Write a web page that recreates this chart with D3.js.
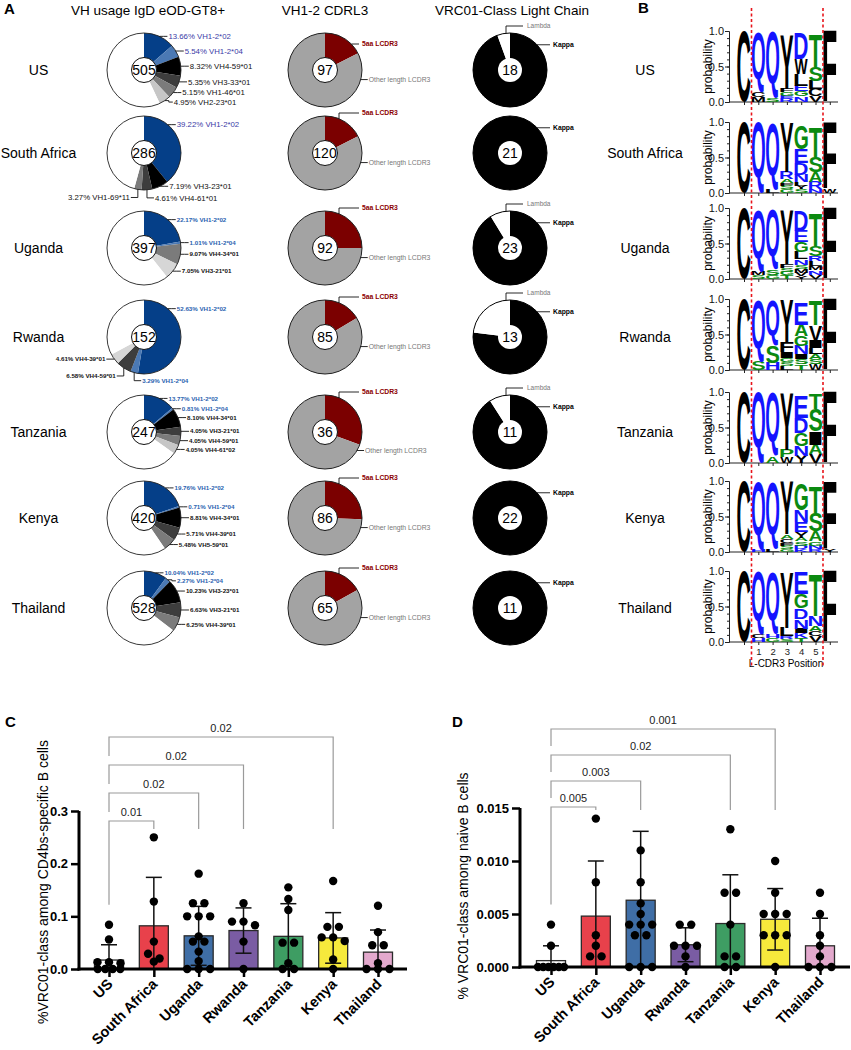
<!DOCTYPE html>
<html><head><meta charset="utf-8">
<script src="https://cdn.jsdelivr.net/npm/d3@7"></script>
<style>
body{margin:0;background:#fff}
svg{display:block}
text{font-family:"Liberation Sans",Arial,sans-serif}
.logo{opacity:0.999}
</style>
</head><body>
<svg id="fig" width="851" height="1050"></svg>
<script>
// ================= DATA =================
const countries = ["US","South Africa","Uganda","Rwanda","Tanzania","Kenya","Thailand"];

// Panel A, column 1: VH usage among IgD+ eOD-GT8+ B cells
const vhTotals = [505, 286, 397, 152, 247, 420, 528];
const vhGenes = [
  ["VH1-2*02","VH1-2*04","VH4-59*01","VH3-33*01","VH1-46*01","VH2-23*01"],
  ["VH1-2*02","VH3-23*01","VH4-61*01","VH1-69*11"],
  ["VH1-2*02","VH1-2*04","VH4-34*01","VH3-21*01"],
  ["VH1-2*02","VH1-2*04","VH4-59*01","VH4-39*01"],
  ["VH1-2*02","VH1-2*04","VH4-34*01","VH3-21*01","VH4-59*01","VH4-61*02"],
  ["VH1-2*02","VH1-2*04","VH4-34*01","VH4-39*01","VH5-59*01"],
  ["VH1-2*02","VH1-2*04","VH3-23*01","VH3-21*01","VH4-39*01"]
];
const vhPercents = [
  [13.66, 5.54, 8.32, 5.35, 5.15, 4.95],
  [39.22, 7.19, 4.61, 3.27],
  [22.17, 1.01, 9.07, 7.05],
  [52.63, 3.29, 6.58, 4.61],
  [13.77, 0.81, 8.10, 4.05, 4.05, 4.05],
  [19.76, 0.71, 8.81, 5.71, 5.48],
  [10.04, 2.27, 10.23, 6.63, 6.25]
];

// Panel A, column 2: VH1-2 CDRL3 (counts of 5aa LCDR3 among total)
const cdrl3Totals = [97, 120, 92, 85, 36, 86, 65];
const cdrl3FiveAA = [17, 21, 23, 14, 11, 22, 11];

// Panel A, column 3: VRC01-class light chain
const lcTotals = [18, 21, 23, 13, 11, 22, 11];
const lcLambda = [1, 0, 2, 3, 1, 0, 0];

// Panel B: L-CDR3 sequence logos (each column listed top -> bottom: [residue, probability])
const logoUS = [
  [["C",1]],
  [["Q",0.84],["C",0.07],["M",0.07]],
  [["Q",0.93],["S",0.06]],
  [["Y",0.76],["F",0.05],["G",0.05],["E",0.04],["R",0.05]],
  [["D",0.36],["W",0.22],["L",0.16],["E",0.08],["G",0.07],["N",0.08]],
  [["T",0.46],["S",0.2],["L",0.12],["C",0.1],["V",0.08]],
  [["F",1]]
];
const logoSouthAfrica = [
  [["C",1]],
  [["Q",1]],
  [["Q",0.93],["L",0.05]],
  [["Y",0.68],["R",0.1],["A",0.06],["F",0.04],["S",0.05],["G",0.05]],
  [["G",0.33],["E",0.2],["D",0.16],["N",0.1],["L",0.06],["Y",0.05],["S",0.05]],
  [["T",0.42],["S",0.22],["A",0.14],["R",0.1],["N",0.05]],
  [["F",0.93],["W",0.06]]
];
const logoUganda = [
  [["C",1]],
  [["Q",0.88],["M",0.05],["S",0.05]],
  [["Q",0.84],["S",0.08],["G",0.06]],
  [["Y",0.76],["F",0.06],["S",0.05],["G",0.05],["T",0.05]],
  [["D",0.28],["E",0.16],["G",0.14],["L",0.1],["N",0.08],["S",0.06],["M",0.05],["V",0.05],["Y",0.04]],
  [["T",0.45],["S",0.14],["R",0.07],["L",0.07],["M",0.06],["N",0.06],["V",0.06]],
  [["F",1]]
];
const logoRwanda = [
  [["C",1]],
  [["Q",0.86],["S",0.12]],
  [["Q",0.64],["S",0.24],["H",0.1]],
  [["Y",0.6],["F",0.14],["I",0.08],["G",0.06],["S",0.06],["L",0.05]],
  [["E",0.3],["A",0.16],["G",0.14],["N",0.12],["I",0.07],["S",0.07],["T",0.08]],
  [["T",0.34],["V",0.22],["I",0.1],["L",0.08],["A",0.08],["S",0.07],["W",0.08]],
  [["F",1]]
];
const logoTanzania = [
  [["C",1]],
  [["Q",1]],
  [["Q",0.9],["A",0.09]],
  [["Y",0.8],["P",0.1],["W",0.08]],
  [["E",0.3],["D",0.22],["G",0.18],["N",0.14],["Y",0.1]],
  [["T",0.22],["S",0.32],["I",0.18],["A",0.14],["V",0.12]],
  [["F",1]]
];
const logoKenya = [
  [["C",1]],
  [["Q",0.96],["H",0.03]],
  [["Q",0.95],["L",0.04]],
  [["Y",0.74],["A",0.06],["C",0.06],["F",0.04],["S",0.05],["G",0.04]],
  [["G",0.36],["N",0.16],["E",0.14],["Y",0.08],["A",0.05],["S",0.06],["D",0.05],["K",0.04]],
  [["T",0.36],["S",0.26],["A",0.14],["G",0.06],["N",0.05],["R",0.04]],
  [["F",0.95],["Y",0.04]]
];
const logoThailand = [
  [["C",1]],
  [["Q",0.9],["C",0.05],["H",0.05]],
  [["Q",0.88],["H",0.06],["G",0.05]],
  [["Y",0.78],["L",0.12],["R",0.04],["S",0.04]],
  [["E",0.3],["G",0.2],["D",0.15],["N",0.13],["I",0.07],["K",0.07],["T",0.05]],
  [["T",0.58],["N",0.14],["A",0.07],["C",0.08],["V",0.08]],
  [["F",1]]
];
const logoPositionLabels = ["", "1", "2", "3", "4", "5", ""];

// Panel C: %VRC01-class among CD4bs-specific B cells
const cd4Means = [0.017, 0.082, 0.063, 0.073, 0.062, 0.059, 0.032];
const cd4SD    = [0.029, 0.092, 0.056, 0.043, 0.062, 0.048, 0.042];
const cd4Points = [
  [0.084, 0.056, 0.013, 0.011, 0.013, 0, 0, 0, 0],
  [0.25, 0.128, 0.052, 0.029, 0.02, 0.014],
  [0.181, 0.125, 0.125, 0.1, 0.1, 0.1, 0.062, 0.052, 0.052, 0.033, 0.015, 0, 0, 0],
  [0.125, 0.09, 0.083, 0.09, 0.052, 0],
  [0.155, 0.133, 0.112, 0.05, 0.05, 0.011, 0, 0],
  [0.167, 0.08, 0.08, 0.06, 0.053, 0.06, 0.018, 0],
  [0.12, 0.07, 0.045, 0.045, 0.011, 0, 0, 0]
];
const cd4Compare = ["South Africa", "Uganda", "Rwanda", "Kenya"];
const cd4PValues = ["0.01", "0.02", "0.02", "0.02"];

// Panel D: % VRC01-class among naive B cells
const naiveMeans = [0.0006, 0.0048, 0.0063, 0.0021, 0.0041, 0.0045, 0.0020];
const naiveSD    = [0.0014, 0.0052, 0.0065, 0.0016, 0.0046, 0.0029, 0.0026];
const naivePoints = [
  [0.004, 0.002, 0, 0, 0, 0, 0, 0],
  [0.014, 0.008, 0.003, 0.002, 0.001, 0.001],
  [0.011, 0.008, 0.006, 0.005, 0.004, 0.004, 0.004, 0.003, 0.003, 0, 0, 0],
  [0.004, 0.004, 0.002, 0.002, 0.002, 0.001, 0],
  [0.013, 0.007, 0.007, 0.004, 0.001, 0.001, 0, 0],
  [0.01, 0.007, 0.005, 0.005, 0.005, 0.003, 0.003, 0.003, 0],
  [0.007, 0.005, 0.003, 0.002, 0.001, 0, 0, 0]
];
const naiveCompare = ["South Africa", "Uganda", "Tanzania", "Kenya"];
const naivePValues = ["0.005", "0.003", "0.02", "0.001"];

// ================= STYLE / LAYOUT =================
const rowY = [70, 153, 248, 337, 432, 518, 608];
const logoTop = [31, 122, 208, 299, 392, 481, 571];
const cdrl3LabelDy = [-26, -40, -40, -40, -40, -40, -40];
const vhShades = [
  ["#000","#3d3d3d","#7b7b7b","#c6c6c6"],
  ["#000","#3d3d3d","#7b7b7b"],
  ["#7b7b7b","#d6d6d6"],
  ["#3d3d3d","#d6d6d6"],
  ["#000","#3d3d3d","#7b7b7b","#c6c6c6"],
  ["#000","#3d3d3d","#7b7b7b"],
  ["#000","#3d3d3d","#7b7b7b"]
];
const vhLabelSide = [
  ["r","r","r","r","r","r"],
  ["r","r","br","bl"],
  ["r","r","r","r"],
  ["r","br","bl","l"],
  ["r","r","r","r","r","r"],
  ["r","r","r","r","r"],
  ["r","r","r","r","r"]
];
const barColors = ["#ffffff","#e8414b","#3f6ea6","#7a5ca3","#3e9d63","#f6e93c","#e3a9cd"];
const SANS = '"Liberation Sans", Arial, sans-serif';
const SERIF = '"Liberation Serif", "Times New Roman", serif';

const svg = d3.select("#fig");
const deg = Math.PI / 180;

// ---------- Titles ----------
svg.append("text").attr("x", 4).attr("y", 14).attr("font-size", 15).attr("font-weight", "bold").text("A");
svg.append("text").attr("x", 148).attr("y", 15).attr("font-size", 13.5).attr("text-anchor", "middle").text("VH usage IgD eOD-GT8+");
svg.append("text").attr("x", 325).attr("y", 15).attr("font-size", 13.5).attr("text-anchor", "middle").text("VH1-2 CDRL3");
svg.append("text").attr("x", 512).attr("y", 15).attr("font-size", 13.5).attr("text-anchor", "middle").text("VRC01-Class Light Chain");
svg.append("text").attr("x", 638).attr("y", 13).attr("font-size", 15).attr("font-weight", "bold").text("B");

// ---------- Panel A pies ----------
const R = 37, rIn = 12.5;
const arc = d3.arc().innerRadius(0).outerRadius(R);
const pieGen = d3.pie().sort(null).value(d => d);
const cx1 = 144, cx2 = 325, cx3 = 510;

countries.forEach((c, i) => {
  const cy = rowY[i];
  svg.append("text").attr("x", 38.5).attr("y", cy + 5).attr("text-anchor", "middle").attr("font-size", 14).text(c);
  svg.append("text").attr("x", 645).attr("y", cy + 5).attr("text-anchor", "middle").attr("font-size", 14).text(c);

  // ---- column 1 ----
  const vals = vhPercents[i].concat([100 - d3.sum(vhPercents[i])]);
  const arcs = pieGen(vals);
  let si = 0;
  const fills = vhGenes[i].map(gn => gn === "VH1-2*02" ? "#053f88" : gn === "VH1-2*04" ? "#4b79b4" : vhShades[i][si++]).concat(["#fff"]);
  const g1 = svg.append("g").attr("transform", `translate(${cx1},${cy})`);
  g1.selectAll("path.sl").data(arcs).join("path").attr("class", "sl").attr("d", arc).attr("fill", (d, j) => fills[j]);
  g1.append("circle").attr("r", R).attr("fill", "none").attr("stroke", "#222").attr("stroke-width", 0.9);
  g1.append("circle").attr("r", rIn).attr("fill", "#fff").attr("stroke", "#111").attr("stroke-width", 1);
  g1.append("text").attr("y", 5).attr("text-anchor", "middle").attr("font-size", 14).text(vhTotals[i]);

  const small = i >= 2;
  const fs = small ? 6.2 : 7.8;
  const gap = small ? 8 : 9.5;
  let lastR = -1e9;
  arcs.slice(0, -1).forEach((d, j) => {
    const side = vhLabelSide[i][j];
    const mid = (d.startAngle + d.endAngle) / 2;
    const a = (j === 0 && side === "r") ? Math.min(mid, 40 * deg) : mid;
    const ex = R * Math.sin(a), ey = -R * Math.cos(a);
    let pts, tx, ty, anchor;
    if (side === "r") {
      ty = Math.max(ey, lastR + gap); lastR = ty;
      pts = [[ex, ey], [ex + 4, ey], [ex + 4, ty], [ex + 8, ty]]; tx = ex + 9; anchor = "start";
    } else if (side === "l") {
      ty = ey; pts = [[ex, ey], [ex - 8, ey]]; tx = ex - 9; anchor = "end";
    } else if (side === "br") {
      ty = ey + 8; pts = [[ex, ey], [ex, ty], [ex + 7, ty]]; tx = ex + 8; anchor = "start";
    } else {
      ty = ey + 8; pts = [[ex, ey], [ex, ty], [ex - 7, ty]]; tx = ex - 8; anchor = "end";
    }
    g1.append("path").attr("d", d3.line()(pts)).attr("fill", "none").attr("stroke", "#111").attr("stroke-width", 0.9);
    const gene = vhGenes[i][j];
    const isV12 = gene.startsWith("VH1-2");
    g1.append("text").attr("x", tx).attr("y", ty).attr("dy", "0.35em").attr("text-anchor", anchor)
      .attr("font-size", fs).attr("font-weight", small ? "bold" : "normal")
      .attr("fill", isV12 ? (small ? "#2a62b0" : "#3a3aa6") : "#111")
      .text(`${vhPercents[i][j].toFixed(2)}% ${gene}`);
  });

  // ---- column 2 ----
  const five = cdrl3FiveAA[i], tot = cdrl3Totals[i];
  const arcs2 = pieGen([five, tot - five]);
  const g2 = svg.append("g").attr("transform", `translate(${cx2},${cy})`);
  g2.selectAll("path.sl").data(arcs2).join("path").attr("class", "sl").attr("d", arc).attr("fill", (d, j) => j === 0 ? "#7b0000" : "#a3a3a3");
  g2.append("circle").attr("r", R).attr("fill", "none").attr("stroke", "#222").attr("stroke-width", 1);
  g2.append("circle").attr("r", rIn).attr("fill", "#fff").attr("stroke", "#111").attr("stroke-width", 1);
  g2.append("text").attr("y", 5).attr("text-anchor", "middle").attr("font-size", 14).text(tot);
  const ly = cdrl3LabelDy[i];
  let lpts;
  if (ly < -R) {
    const lx = 14, lyEdge = -Math.sqrt(R * R - lx * lx);
    lpts = [[lx, lyEdge], [lx, ly], [34, ly]];
  } else {
    lpts = [[Math.sqrt(R * R - ly * ly), ly], [34, ly]];
  }
  g2.append("path").attr("d", d3.line()(lpts)).attr("fill", "none").attr("stroke", "#111").attr("stroke-width", 0.9);
  g2.append("text").attr("x", 37).attr("y", ly).attr("dy", "0.35em").attr("font-size", 6.8).attr("font-weight", "bold").attr("fill", "#8b0000").text("5aa LCDR3");
  const a2 = Math.max(105 * deg, arcs2[0].endAngle + 10 * deg);
  const ex2 = R * Math.sin(a2), ey2 = -R * Math.cos(a2);
  g2.append("path").attr("d", d3.line()([[ex2, ey2], [ex2 + 7, ey2]])).attr("stroke", "#111").attr("stroke-width", 0.9);
  g2.append("text").attr("x", ex2 + 8).attr("y", ey2).attr("dy", "0.35em").attr("font-size", 6.8).attr("fill", "#777").text("Other length LCDR3");

  // ---- column 3 ----
  const lam = lcLambda[i], ltot = lcTotals[i];
  const arcs3 = pieGen([ltot - lam, lam]);
  const g3 = svg.append("g").attr("transform", `translate(${cx3},${cy})`);
  g3.selectAll("path.sl").data(arcs3).join("path").attr("class", "sl").attr("d", arc).attr("fill", (d, j) => j === 0 ? "#000" : "#fff");
  g3.append("circle").attr("r", R).attr("fill", "none").attr("stroke", "#000").attr("stroke-width", 1);
  g3.append("circle").attr("r", 12).attr("fill", "#fff");
  g3.append("text").attr("y", 5).attr("text-anchor", "middle").attr("font-size", 14).text(ltot);
  if (lam > 0) {
    const lxx = -4, ly0 = -Math.sqrt(R * R - 16), ly1 = -44;
    g3.append("path").attr("d", d3.line()([[lxx, ly0], [lxx, ly1], [13, ly1]])).attr("fill", "none").attr("stroke", "#111").attr("stroke-width", 0.9);
    g3.append("text").attr("x", 17).attr("y", ly1).attr("dy", "0.35em").attr("font-size", 6.5).attr("fill", "#777").text("Lambda");
  }
  const ak = 47 * deg, kx = R * Math.sin(ak), ky = -R * Math.cos(ak);
  g3.append("path").attr("d", d3.line()([[kx, ky], [40, ky]])).attr("stroke", "#111").attr("stroke-width", 0.9);
  g3.append("text").attr("x", 43).attr("y", ky).attr("dy", "0.35em").attr("font-size", 6.8).attr("font-weight", "bold").text("Kappa");
});

// ---------- Panel B logos ----------
const logos = [logoUS, logoSouthAfrica, logoUganda, logoRwanda, logoTanzania, logoKenya, logoThailand];
const cv = document.createElement("canvas").getContext("2d");
cv.font = 'bold 100px "Liberation Sans", Arial, sans-serif';
const metricsCache = {};
function glyph(ch) {
  if (!metricsCache[ch]) {
    const m = cv.measureText(ch);
    metricsCache[ch] = { l: m.actualBoundingBoxLeft, r: m.actualBoundingBoxRight, a: m.actualBoundingBoxAscent, d: m.actualBoundingBoxDescent };
  }
  return metricsCache[ch];
}
function residueColor(ch) {
  if ("QNDERKH".includes(ch)) return "#1414ff";
  if ("GSTAP".includes(ch)) return "#0b8a10";
  return "#000";
}
const xL = d3.scaleLinear().domain([0, 6]).range([744, 829.8]);
const letterW = 13.2;
const logoH = 71;
logos.forEach((cols, i) => {
  const top = logoTop[i], bot = top + logoH;
  const yL = d3.scaleLinear().domain([0, 1]).range([bot, top]);
  const g = svg.append("g");
  const ax1 = g.append("g").attr("transform", "translate(729,0)")
    .call(d3.axisLeft(yL).tickValues(d3.range(0, 1.0001, 0.1)).tickFormat("").tickSize(2).tickSizeOuter(0));
  const ax2 = g.append("g").attr("transform", "translate(729,0)")
    .call(d3.axisLeft(yL).tickValues([0, 0.5, 1]).tickFormat(d3.format(".1f")).tickSize(4).tickSizeOuter(0).tickPadding(1));
  [ax1, ax2].forEach(ax => { ax.selectAll("line").attr("stroke", "#222"); ax.select(".domain").attr("stroke", "#222"); });
  ax2.selectAll("text").attr("font-size", 11).attr("font-family", SANS).attr("fill", "#111");
  const axb = g.append("g").attr("transform", `translate(0,${bot})`)
    .call(d3.axisBottom(xL).tickValues(d3.range(0, 7)).tickFormat(k => i === logos.length - 1 ? logoPositionLabels[k] : "").tickSize(3).tickSizeOuter(0));
  axb.select(".domain").attr("d", `M729,0H838`).attr("stroke", "#222");
  axb.selectAll("line").attr("stroke", "#222");
  axb.selectAll("text").attr("font-size", 9.5).attr("font-family", SANS).attr("fill", "#222");
  g.append("text").attr("transform", `translate(712,${(top + bot) / 2}) rotate(-90)`).attr("text-anchor", "middle").attr("font-size", 12).text("probability");
  const gl = g.append("g").attr("class", "logo");
  cols.forEach((col, k) => {
    let acc = 0;
    col.slice().reverse().forEach(([ch, p]) => {
      const y0 = yL(acc + p), h = yL(acc) - yL(acc + p);
      acc += p;
      if (h < 0.4) return;
      const m = glyph(ch);
      const gw = m.l + m.r, gh = m.a + m.d;
      gl.append("text").attr("font-family", SANS).attr("font-weight", "bold").attr("font-size", 100)
        .attr("fill", residueColor(ch))
        .attr("transform", `translate(${xL(k) - letterW / 2},${y0 + h}) scale(${letterW / gw},${h / gh}) translate(${m.l},${-m.d})`)
        .text(ch);
    });
  });
  if (i === logos.length - 1) {
    g.append("text").attr("x", 786).attr("y", bot + 25).attr("text-anchor", "middle").attr("font-size", 10).text("L-CDR3 Position");
  }
});
[751.5, 823].forEach(xx => {
  svg.append("line").attr("x1", xx).attr("x2", xx).attr("y1", 8).attr("y2", 668)
    .attr("stroke", "#e8141b").attr("stroke-width", 1.6).attr("stroke-dasharray", "3,2.5");
});

// ---------- Panels C & D ----------
function spread(vals, y) {
  const pts = vals.map(v => ({ v, py: y(v) })).sort((a, b) => a.py - b.py);
  const bins = [];
  pts.forEach(p => {
    const b = bins[bins.length - 1];
    if (b && p.py - b[0].py < 5) b.push(p); else bins.push([p]);
  });
  const out = [];
  bins.forEach(b => {
    const n = b.length;
    const sp = n >= 4 ? Math.min(7.5, 26 / (n - 1)) : 11.5;
    b.forEach((p, j) => out.push({ v: p.v, py: p.py, dx: (j - (n - 1) / 2) * sp }));
  });
  return out;
}

function barPanel(cfg) {
  const g = svg.append("g");
  const x = d3.scalePoint().domain(countries).range(cfg.xr);
  const y = d3.scaleLinear().domain([0, cfg.ymax]).range([cfg.y0, cfg.y1]);
  const bw = 29;

  cfg.compare.forEach((t, k) => {
    const by = cfg.bBase - k * cfg.bStep;
    const xl = x("US"), xr = x(t);
    const leftEnd = k === 0 ? y(d3.max(cfg.points[0])) - 20 : by + cfg.bStep - 9;
    g.append("path").attr("d", `M${xl},${leftEnd}V${by}H${xr}V${cfg.rightEnd}`)
      .attr("fill", "none").attr("stroke", "#9a9a9a").attr("stroke-width", 1.2);
    g.append("text").attr("x", (xl + xr) / 2).attr("y", by - 5).attr("text-anchor", "middle")
      .attr("font-size", 11).attr("fill", "#222").text(cfg.pvals[k]);
  });

  g.selectAll("rect.bar").data(countries).join("rect").attr("class", "bar")
    .attr("x", d => x(d) - bw / 2).attr("width", bw)
    .attr("y", (d, i) => y(cfg.means[i])).attr("height", (d, i) => cfg.y0 - y(cfg.means[i]))
    .attr("fill", (d, i) => barColors[i]).attr("stroke", "#2a2a2a").attr("stroke-width", 1.3);

  countries.forEach((c, i) => {
    const m = cfg.means[i], s = cfg.sds[i];
    const lo = Math.max(0, m - s), hi = m + s;
    const xc = x(c);
    g.append("line").attr("x1", xc).attr("x2", xc).attr("y1", y(lo)).attr("y2", y(hi)).attr("stroke", "#111").attr("stroke-width", 1.5);
    g.append("line").attr("x1", xc - 8).attr("x2", xc + 8).attr("y1", y(hi)).attr("y2", y(hi)).attr("stroke", "#111").attr("stroke-width", 1.5);
    if (m - s > 0) g.append("line").attr("x1", xc - 8).attr("x2", xc + 8).attr("y1", y(lo)).attr("y2", y(lo)).attr("stroke", "#111").attr("stroke-width", 1.5);
  });

  countries.forEach((c, i) => {
    const sp = spread(cfg.points[i], y);
    g.selectAll(null).data(sp).join("circle")
      .attr("cx", d => x(c) + d.dx).attr("cy", d => d.py).attr("r", 4.2).attr("fill", "#000");
  });

  const ya = g.append("g").attr("transform", `translate(${cfg.xAxis},0)`)
    .call(d3.axisLeft(y).tickValues(cfg.ticks).tickFormat(cfg.fmt).tickSize(8).tickSizeOuter(0).tickPadding(3));
  ya.select(".domain").attr("stroke", "#000").attr("stroke-width", 3).attr("d", `M0,${cfg.y1}V${cfg.y0 + 1.5}`);
  ya.selectAll("line").attr("stroke", "#000").attr("stroke-width", 2.5);
  ya.selectAll("text").attr("font-family", SANS).attr("font-size", 13).attr("font-weight", "bold").attr("fill", "#000");

  const xa = g.append("g").attr("transform", `translate(0,${cfg.y0})`)
    .call(d3.axisBottom(x).tickSize(8).tickSizeOuter(0));
  xa.select(".domain").attr("stroke", "#000").attr("stroke-width", 3).attr("d", `M${cfg.xAxis - 1.5},0H${cfg.xEnd}`);
  xa.selectAll("line").attr("stroke", "#000").attr("stroke-width", 2.5);
  xa.selectAll("text").attr("font-family", SERIF).attr("font-size", 14.5).attr("font-weight", "bold").attr("fill", "#000")
    .attr("text-anchor", "end").attr("x", 0).attr("y", 0).attr("dy", null)
    .attr("transform", "translate(4,16) rotate(-45)");

  g.append("text").attr("transform", `translate(${cfg.ylabelX},${cfg.ylabelY}) rotate(-90)`)
    .attr("text-anchor", "middle").attr("font-size", 14).text(cfg.ylabel);

  g.append("text").attr("x", cfg.letterX).attr("y", 727).attr("font-size", 15).attr("font-weight", "bold").text(cfg.letter);
}

barPanel({
  letter: "C", letterX: 5,
  means: cd4Means, sds: cd4SD, points: cd4Points, compare: cd4Compare, pvals: cd4PValues,
  xr: [109, 378], y0: 969, y1: 811, ymax: 0.3, xAxis: 79, xEnd: 407,
  ticks: [0, 0.1, 0.2, 0.3], fmt: d3.format(".1f"),
  bBase: 821, bStep: 28, rightEnd: 829,
  ylabel: "%VRC01-class among CD4bs-specific B cells", ylabelX: 48, ylabelY: 882
});
barPanel({
  letter: "D", letterX: 452,
  means: naiveMeans, sds: naiveSD, points: naivePoints, compare: naiveCompare, pvals: naivePValues,
  xr: [551, 820], y0: 967, y1: 808, ymax: 0.015, xAxis: 520, xEnd: 850,
  ticks: [0, 0.005, 0.01, 0.015], fmt: d3.format(".3f"),
  bBase: 807, bStep: 26, rightEnd: 810,
  ylabel: "% VRC01-class among naive B cells", ylabelX: 468, ylabelY: 886
});
</script>
</body></html>
